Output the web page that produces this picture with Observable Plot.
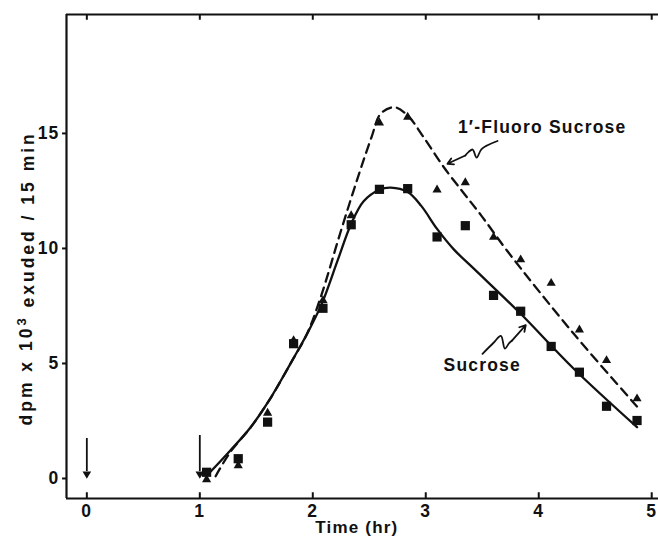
<!DOCTYPE html>
<html><head><meta charset="utf-8">
<script src="https://cdn.jsdelivr.net/npm/d3@7"></script>
<script src="https://cdn.jsdelivr.net/npm/@observablehq/plot@0.6"></script>
<style>body{margin:0;background:#fff}</style>
</head><body><div id="chart"></div>
<script>
// ---- data ----
const sampleTime = [1.06, 1.34, 1.60, 1.83, 2.09, 2.34, 2.59, 2.84, 3.10, 3.35, 3.60, 3.84, 4.11, 4.36, 4.60, 4.87];
const sucroseValues = [0.27, 0.86, 2.45, 5.86, 7.40, 11.03, 12.57, 12.60, 10.50, 10.99, 7.96, 7.27, 5.74, 4.62, 3.14, 2.52];
const fluoroValues  = [-0.05, 0.56, 2.84, 6.00, 7.74, 11.43, 15.46, 15.71, 12.55, 12.86, 10.49, 9.51, 8.49, 6.46, 5.13, 3.47];

const sucroseCurveTime  = [1.09, 1.27, 1.45, 1.63, 1.81, 1.95, 2.08, 2.22, 2.34, 2.45, 2.59, 2.69, 2.84, 2.96, 3.10, 3.25, 3.43, 3.84, 4.31, 4.87];
const sucroseCurveValue = [0.27, 1.22, 2.23, 3.53, 5.06, 6.29, 7.60, 9.48, 11.07, 12.05, 12.55, 12.64, 12.45, 11.85, 10.85, 9.95, 9.10, 7.16, 4.77, 2.23];
const fluoroCurveTime  = [1.14, 1.27, 1.45, 1.63, 1.81, 1.95, 2.07, 2.25, 2.40, 2.52, 2.60, 2.72, 2.84, 2.98, 3.16, 3.34, 3.49, 3.72, 4.31, 4.90];
const fluoroCurveValue = [0.10, 1.15, 2.22, 3.52, 5.06, 6.30, 7.88, 10.78, 13.10, 14.84, 15.85, 16.14, 15.78, 14.84, 13.53, 12.38, 11.44, 9.90, 6.29, 2.96];

const xTicks = [0, 1, 2, 3, 4, 5];
const yTicks = [0, 5, 10, 15];
const treatmentTimes = [0, 1];
const treatmentArrowTop = [1.74, 1.87];

const fluoroLabel = "1\u2032-Fluoro Sucrose";
const sucroseLabel = "Sucrose";
const xLabel = "Time (hr)";
const yLabel = "dpm x 10\u00B3 exuded / 15 min";

// annotation pointer paths (data coordinates)
const fluoroPointerX = [3.635, 3.496, 3.450, 3.415, 3.380, 3.350];
const fluoroPointerY = [14.67, 14.33, 13.95, 14.30, 14.20, 14.04];
const fluoroPointerTip = [3.192, 13.68];
const sucrosePointerX = [3.502, 3.600, 3.665, 3.700, 3.740, 3.765];
const sucrosePointerY = [5.42, 5.90, 6.20, 5.65, 5.90, 6.00];
const sucrosePointerTip = [3.885, 6.67];

// ---- build tables ----
const xMin = -0.18, xMax = 5.06, yMin = -0.87, yMax = 20.17;
const sucrosePts = sampleTime.map((t, i) => ({t, v: sucroseValues[i]}));
const fluoroPts = sampleTime.map((t, i) => ({t, v: fluoroValues[i]}));
const sucroseCurve = sucroseCurveTime.map((t, i) => ({t, v: sucroseCurveValue[i]}));
const fluoroCurve = fluoroCurveTime.map((t, i) => ({t, v: fluoroCurveValue[i]}));
const fp = fluoroPointerX.map((x, i) => ({x, y: fluoroPointerY[i]}));
const sp = sucrosePointerX.map((x, i) => ({x, y: sucrosePointerY[i]}));
const treat = treatmentTimes.map((t, i) => ({t, top: treatmentArrowTop[i]}));

const font = "Liberation Sans, Arial, Helvetica, sans-serif";
const ink = "#111";

const chart = Plot.plot({
  width: 658,
  height: 538,
  marginLeft: 66,
  marginRight: 0,
  marginTop: 14,
  marginBottom: 40,
  x: {domain: [xMin, xMax], axis: null},
  y: {domain: [yMin, yMax], axis: null},
  style: {fontFamily: font, letterSpacing: "1.2px", background: "#fff", color: ink},
  marks: [
    // frame (open on the right)
    Plot.ruleY([yMin], {stroke: ink, strokeWidth: 2.2}),
    Plot.ruleY([yMax], {stroke: ink, strokeWidth: 2.2}),
    Plot.ruleX([xMin], {stroke: ink, strokeWidth: 2.2}),
    // ticks
    Plot.ruleX(xTicks, {x: d => d, y1: yMin, y2: yMin + 0.25, stroke: ink, strokeWidth: 2}),
    Plot.ruleX(xTicks, {x: d => d, y1: yMax, y2: yMax - 0.25, stroke: ink, strokeWidth: 2}),
    Plot.ruleY(yTicks, {y: d => d, x1: xMin - 0.035, x2: xMin, stroke: ink, strokeWidth: 2}),
    // tick labels
    Plot.text(xTicks, {x: d => d, y: yMin, text: d => String(d), dy: 13, fontSize: 17.5, fontWeight: "bold", fill: ink}),
    Plot.text(yTicks, {x: xMin, y: d => d, text: d => String(d), dx: -7, textAnchor: "end", fontSize: 17.5, fontWeight: "bold", fill: ink}),
    // axis labels
    Plot.text([xLabel], {x: 2.39, y: yMin, dy: 29, text: d => d, fontSize: 17, fontWeight: "bold", fill: ink}),
    Plot.text([yLabel], {x: xMin, y: 8.7, dx: -40, rotate: -90, text: d => d, fontSize: 17.5, fontWeight: "bold", fill: ink}),
    // treatment arrows
    Plot.ruleX(treat, {x: "t", y1: "top", y2: 0.3, stroke: ink, strokeWidth: 1.8}),
    Plot.dot(treat, {x: "t", y: 0.2, symbol: "triangle", rotate: 180, r: 3.2, fill: ink, stroke: "none"}),
    // curves
    Plot.line(fluoroCurve, {x: "t", y: "v", curve: "catmull-rom", stroke: ink, strokeWidth: 2.3, strokeDasharray: "9,6"}),
    Plot.line(sucroseCurve, {x: "t", y: "v", curve: "catmull-rom", stroke: ink, strokeWidth: 2.3}),
    // points
    Plot.dot(fluoroPts, {x: "t", y: "v", symbol: "triangle", r: 3.4, fill: ink, stroke: "none"}),
    Plot.dot(sucrosePts, {x: "t", y: "v", symbol: "square", r: 5.2, fill: ink, stroke: "none"}),
    // annotations
    Plot.text([fluoroLabel], {x: 4.03, y: 15.26, text: d => d, fontSize: 17.5, fontWeight: "bold", fill: ink}),
    Plot.text([sucroseLabel], {x: 3.50, y: 4.91, text: d => d, fontSize: 17.5, fontWeight: "bold", fill: ink}),
    Plot.line(fp, {x: "x", y: "y", curve: "catmull-rom", stroke: ink, strokeWidth: 1.8}),
    Plot.arrow([0], {x1: fp[fp.length-1].x, y1: fp[fp.length-1].y, x2: fluoroPointerTip[0], y2: fluoroPointerTip[1], stroke: ink, strokeWidth: 1.8, headLength: 9}),
    Plot.line(sp, {x: "x", y: "y", curve: "catmull-rom", stroke: ink, strokeWidth: 1.8}),
    Plot.arrow([0], {x1: sp[sp.length-1].x, y1: sp[sp.length-1].y, x2: sucrosePointerTip[0], y2: sucrosePointerTip[1], stroke: ink, strokeWidth: 1.8, headLength: 9})
  ]
});
document.getElementById("chart").appendChild(chart);

// render the superscript of the y label as a real raised "3"
d3.select(chart).selectAll("text").filter(function() { return this.textContent === yLabel; })
  .each(function() {
    const t = d3.select(this);
    t.text(null).style("letter-spacing", "3px");
    t.append("tspan").text("dpm x 10");
    t.append("tspan").attr("dy", "-0.45em").attr("font-size", "13").text("3");
    t.append("tspan").attr("dy", "0.45em").text(" exuded / 15 min");
  });
</script>
</body></html>
